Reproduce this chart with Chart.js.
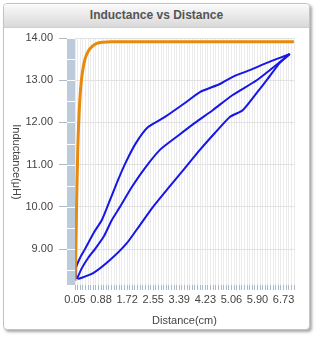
<!DOCTYPE html>
<html>
<head>
<meta charset="utf-8">
<script src="https://cdn.jsdelivr.net/npm/chart.js@4"></script>
<style>
  html, body { margin:0; padding:0; background:#fff; }
  body { width:317px; height:338px; position:relative; overflow:hidden; font-family:"Liberation Sans", Arial, sans-serif; }
  #panel { position:absolute; left:3px; top:3px; width:305px; height:325px; border:1px solid #c4c4c4; border-radius:4px;
           box-shadow:2px 2px 3px rgba(0,0,0,0.35); background:#fff; overflow:hidden; }
  #head { height:23px; border-bottom:1px solid #cfcfcf; background:linear-gradient(#fafafa,#d9d9d9);
          text-align:center; line-height:23px; font-size:12px; font-weight:bold; color:#555; }
  #wrap { position:absolute; left:0; top:0; width:317px; height:338px; }
</style>
</head>
<body>
<div id="panel"><div id="head">Inductance vs Distance</div></div>
<div id="wrap"><canvas id="c" width="317" height="338"></canvas></div>
<script>
// ---- data ----
const xTickLabels = ['0.05','0.88','1.72','2.55','3.39','4.23','5.06','5.90','6.73'];
const yTickValues = [9, 10, 11, 12, 13, 14];

const orangeX = [0.05, 0.08, 0.11, 0.14, 0.18, 0.23, 0.29, 0.37, 0.47, 0.60, 0.75, 0.95, 1.20, 7.06];
const orangeY = [8.25, 9.20, 10.40, 11.40, 12.20, 12.80, 13.20, 13.50, 13.68, 13.80, 13.87, 13.90, 13.91, 13.91];

const upperX = [0.08, 0.08, 0.21, 0.37, 0.66, 0.91, 1.17, 1.43, 1.68, 2.00, 2.39, 2.93, 3.57, 4.05, 4.69, 5.10, 5.65, 6.19, 6.61, 6.93];
const upperY = [8.29, 8.55, 8.79, 9.00, 9.40, 9.69, 10.16, 10.64, 11.06, 11.51, 11.89, 12.13, 12.46, 12.72, 12.91, 13.08, 13.24, 13.41, 13.53, 13.62];

const middleX = [0.11, 0.27, 0.47, 0.69, 0.98, 1.23, 1.49, 1.87, 2.29, 2.77, 3.34, 3.89, 4.46, 5.10, 5.87, 6.61, 6.93];
const middleY = [8.29, 8.55, 8.79, 9.00, 9.31, 9.69, 10.00, 10.47, 10.92, 11.35, 11.68, 11.99, 12.29, 12.65, 13.00, 13.43, 13.62];

const lowerX = [0.15, 0.63, 1.17, 1.71, 2.13, 2.55, 3.09, 3.57, 4.05, 4.53, 5.01, 5.42, 5.87, 6.19, 6.61, 6.93];
const lowerY = [8.29, 8.43, 8.74, 9.14, 9.57, 10.00, 10.49, 10.92, 11.35, 11.75, 12.13, 12.29, 12.70, 13.00, 13.41, 13.62];

// ---- helpers ----
const pts = (xs, ys) => xs.map((x, i) => ({x: x, y: ys[i]}));
const X_MIN = 0.05, X_STEP = 0.0835, X_COUNT = 85;
const GREYTXT = '#444';
const TICKCOL = '#a9bccd';
const BAND = '#bccbda';
const FONT = '"Liberation Sans", Arial, sans-serif';

const decor = {
  id: 'decor',
  beforeDatasetsDraw(chart) {
    const ctx = chart.ctx, ys = chart.scales.y, a = chart.chartArea;
    ctx.save();
    ctx.fillStyle = BAND;
    ctx.fillRect(a.left - 8, a.top, 8, a.bottom - a.top);
    ctx.strokeStyle = '#ffffff';
    ctx.lineWidth = 1;
    for (let v = 8.5; v <= 14.001; v += 0.5) {
      const y = Math.round(ys.getPixelForValue(v)) + 0.5;
      ctx.beginPath(); ctx.moveTo(a.left - 8, y); ctx.lineTo(a.left, y); ctx.stroke();
    }
    ctx.restore();
  },
  afterDraw(chart) {
    const ctx = chart.ctx, a = chart.chartArea;
    ctx.save();
    ctx.fillStyle = GREYTXT;
    ctx.font = '11px ' + FONT;
    ctx.textAlign = 'center';
    ctx.textBaseline = 'middle';
    ctx.fillText('Distance(cm)', (a.left + a.right) / 2, 321);
    ctx.translate(16, 162);
    ctx.rotate(Math.PI / 2);
    ctx.fillText('Inductance(μH)', 0, 0);
    ctx.restore();
  }
};

new Chart(document.getElementById('c'), {
  type: 'scatter',
  data: {
    datasets: [
      { data: pts(orangeX, orangeY), showLine: true, borderColor: '#e8890c', borderWidth: 3, pointRadius: 0,
        cubicInterpolationMode: 'monotone', order: 0 },
      { data: pts(upperX, upperY), showLine: true, borderColor: '#1616e8', borderWidth: 2, pointRadius: 0, tension: 0.2, order: 1 },
      { data: pts(middleX, middleY), showLine: true, borderColor: '#1616e8', borderWidth: 2, pointRadius: 0, tension: 0.2, order: 1 },
      { data: pts(lowerX, lowerY), showLine: true, borderColor: '#1616e8', borderWidth: 2, pointRadius: 0, tension: 0.2, order: 1 }
    ]
  },
  options: {
    responsive: false,
    animation: false,
    events: [],
    layout: { padding: { left: 0, right: 23, top: 38, bottom: 0 } },
    plugins: { legend: { display: false }, tooltip: { enabled: false } },
    scales: {
      x: {
        type: 'linear',
        min: X_MIN,
        max: X_MIN + (X_COUNT - 1) * X_STEP,
        afterBuildTicks(s) {
          const t = [];
          for (let k = 0; k < X_COUNT; k++) t.push({ value: X_MIN + k * X_STEP });
          s.ticks = t;
        },
        afterFit(s) { s.height = 53; },
        border: { display: false },
        grid: { color: '#ebebeb', tickColor: TICKCOL, tickLength: 5, drawTicks: true },
        ticks: {
          autoSkip: false, maxRotation: 0, padding: 3, color: GREYTXT,
          font: { size: 11, family: FONT },
          callback: (v, i) => (i % 10 === 0 ? xTickLabels[i / 10] : '')
        }
      },
      y: {
        min: 8.15,
        max: 14,
        afterBuildTicks(s) { s.ticks = yTickValues.map(v => ({ value: v })); },
        afterFit(s) { s.width = 75; },
        border: { display: false },
        grid: { color: '#e2e2e2', tickColor: TICKCOL, tickLength: 16 },
        ticks: { padding: 6, color: GREYTXT, font: { size: 11, family: FONT },
                 callback: v => Number(v).toFixed(2) }
      }
    }
  },
  plugins: [decor]
});
</script>
</body>
</html>
